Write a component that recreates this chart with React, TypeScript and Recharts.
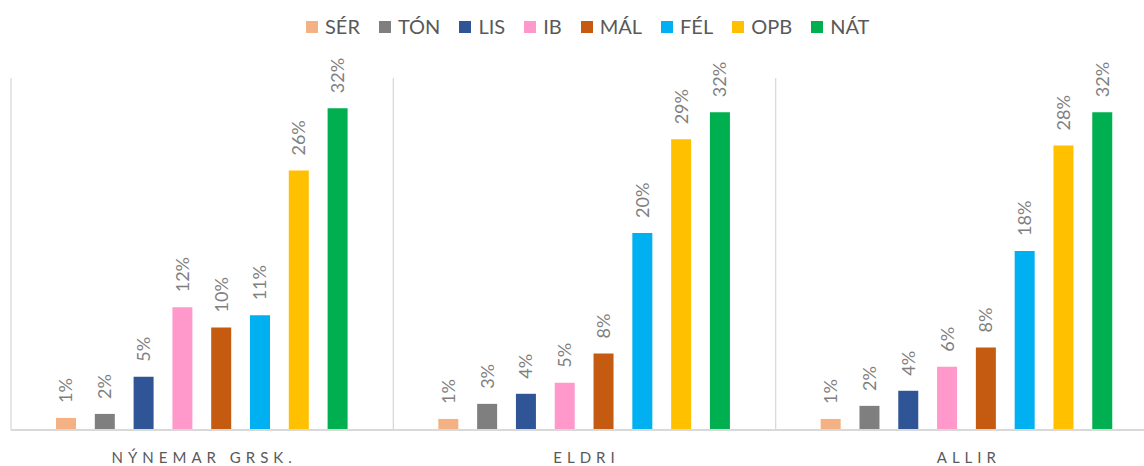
import React from 'react';
import { BarChart, Bar, XAxis, YAxis, CartesianGrid, LabelList } from 'recharts';

const categories = ['NÝNEMAR GRSK.', 'ELDRI', 'ALLIR'];

// values in percent
const ser = [1.2, 1.1, 1.1];
const ton = [1.6, 2.6, 2.4];
const lis = [5.3, 3.6, 3.9];
const ib = [12.2, 4.7, 6.3];
const mal = [10.2, 7.6, 8.2];
const fel = [11.4, 19.6, 17.8];
const opb = [25.8, 28.9, 28.3];
const nat = [32.0, 31.6, 31.6];

const seriesNames = ['SÉR', 'TÓN', 'LIS', 'IB', 'MÁL', 'FÉL', 'OPB', 'NÁT'];
const seriesValues = [ser, ton, lis, ib, mal, fel, opb, nat];
const seriesColors = ['#F4B183', '#7F7F7F', '#2F5597', '#FF99CC', '#C55A11', '#00B0F0', '#FFC000', '#00B050'];

const data = categories.map((cat, i) => {
  const row: any = { name: cat };
  seriesNames.forEach((s, j) => {
    row[s] = seriesValues[j][i];
  });
  return row;
});

const FONT = 'Lato, "Open Sans", sans-serif';

const BarLabel = (props: any) => {
  const { x, y, width, value } = props;
  const cx = x + width / 2;
  const ty = y - 15;
  return (
    <text
      x={cx}
      y={ty}
      dy="0.36em"
      transform={`rotate(-90 ${cx} ${ty})`}
      textAnchor="start"
      fill="#7F7F7F"
      fontSize={18}
      fontFamily={FONT}
    >
      {Math.round(value)}%
    </text>
  );
};

const CategoryTick = (props: any) => {
  const { x, y, payload } = props;
  return (
    <text
      x={x + 2}
      y={y + 25}
      textAnchor="middle"
      fill="#595959"
      fontSize={15}
      fontFamily={FONT}
      letterSpacing={5}
    >
      {payload.value}
    </text>
  );
};

const Legend = () => (
  <div
    style={{
      position: 'absolute',
      top: 12,
      left: 306,
      display: 'flex',
      alignItems: 'center',
      fontFamily: FONT,
      fontSize: 20,
      color: '#595959',
      lineHeight: '28px',
    }}
  >
    {seriesNames.map((s, i) => (
      <div key={s} style={{ display: 'flex', alignItems: 'center', marginRight: 19 }}>
        <span style={{ width: 12, height: 12, background: seriesColors[i], marginRight: 7, marginTop: 2 }} />
        <span>{s}</span>
      </div>
    ))}
  </div>
);

export default function App() {
  return (
    <div
      style={{
        position: 'fixed',
        left: 0,
        top: 0,
        width: 1144,
        height: 466,
        overflow: 'hidden',
        background: '#fff',
      }}
    >
      <Legend />
      <div style={{ position: 'absolute', left: -1, top: 0 }}>
        <BarChart
          width={1170}
          height={466}
          data={data}
          margin={{ top: 78, right: 11, left: 12, bottom: 0 }}
          barGap={18.8}
        >
          <CartesianGrid
            horizontal={false}
            stroke="#D9D9D9"
            strokeWidth={1.3}
            verticalCoordinatesGenerator={({ offset }: any) =>
              [0, 1, 2, 3].map((k) => offset.left + (k * offset.width) / 3)
            }
          />
          <XAxis
            dataKey="name"
            height={36}
            axisLine={{ stroke: '#D9D9D9', strokeWidth: 2 }}
            tickLine={false}
            tick={<CategoryTick />}
            interval={0}
          />
          <YAxis hide domain={[0, 35]} />
          {seriesNames.map((s, i) => (
            <Bar key={s} dataKey={s} fill={seriesColors[i]} barSize={20} isAnimationActive={false}>
              <LabelList dataKey={s} content={<BarLabel />} />
            </Bar>
          ))}
        </BarChart>
      </div>
    </div>
  );
}
